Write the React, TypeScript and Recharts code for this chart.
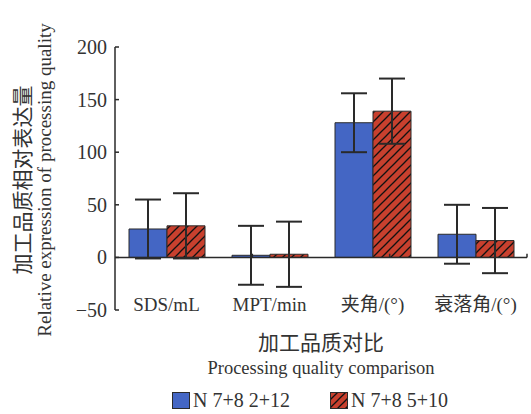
import React from 'react';
import {
  BarChart, Bar, XAxis, YAxis, ErrorBar, ReferenceLine, Legend,
} from 'recharts';

const categories = ['SDS/mL', 'MPT/min', '夹角/(°)', '衰落角/(°)'];
const blueValues = [27, 2, 128, 22];
const blueErrors = [28, 28, 28, 28];
const redValues = [30, 3, 139, 16];
const redErrors = [31, 31, 31, 31];
const yTicks = [-50, 0, 50, 100, 150, 200];
const boundaries = [1, 2, 3];

const seriesNames = ['N 7+8 2+12', 'N 7+8 5+10'];

const FONT = "'Liberation Serif', 'Noto Sans CJK SC', serif";
const BLUE = '#4466c4';
const RED = '#c8402e';
const INK = '#2a2a2a';
const TXT = { fontFamily: FONT };

const data = categories.map((name, i) => ({
  name,
  blue: blueValues[i],
  blueErr: blueErrors[i],
  red: redValues[i],
  redErr: redErrors[i],
}));

const YTick = ({ x, y, payload }: any) => (
  <g>
    <line x1={x} x2={x + 4} y1={y} y2={y} stroke={INK} strokeWidth={1.5} />
    <text x={x - 8} y={y} dy={7} textAnchor="end" style={TXT} fontSize={20} fill="#333">
      {payload.value < 0 ? '\u2212' + Math.abs(payload.value) : payload.value}
    </text>
  </g>
);

const XTick = ({ x, y, payload }: any) => (
  <text x={x} y={y} dy={-7} textAnchor="middle" style={TXT} fontSize={19} fill="#333">
    {payload.value}
  </text>
);

const YTitle = () => {
  const cy = 180;
  return (
    <g fill="#333">
      <text x={23} y={cy} transform={`rotate(-90 23 ${cy})`} dy={7} textAnchor="middle" style={TXT} fontSize={21}>
        加工品质相对表达量
      </text>
      <text x={45} y={cy} transform={`rotate(-90 45 ${cy})`} dy={6} textAnchor="middle" style={TXT} fontSize={19}>
        Relative expression of processing quality
      </text>
    </g>
  );
};

const XTitle = ({ viewBox }: any) => {
  const cx = viewBox.x + viewBox.width / 2;
  return (
    <g fill="#333">
      <text x={cx} y={viewBox.y + 40} textAnchor="middle" style={TXT} fontSize={21}>加工品质对比</text>
      <text x={cx} y={viewBox.y + 64} textAnchor="middle" style={TXT} fontSize={18.5}>Processing quality comparison</text>
    </g>
  );
};

const LegendContent = () => (
  <div style={{ position: 'relative', height: 30, fontFamily: FONT, fontSize: 20, color: '#333' }}>
    <div style={{ position: 'absolute', left: 172, top: 5, display: 'flex', alignItems: 'center' }}>
      <svg width={19} height={18} style={{ marginRight: 2 }}>
        <rect x={0.5} y={0.5} width={17} height={16} fill={BLUE} stroke={INK} />
      </svg>
      <span>{seriesNames[0]}</span>
    </div>
    <div style={{ position: 'absolute', left: 330, top: 5, display: 'flex', alignItems: 'center' }}>
      <svg width={19} height={18} style={{ marginRight: 2 }}>
        <defs>
          <pattern id="hatchLegend" patternUnits="userSpaceOnUse" width={8} height={8}>
            <rect width={8} height={8} fill={RED} />
            <line x1={0} y1={8} x2={8} y2={0} stroke="#111" strokeWidth={1.3} />
            <line x1={-2} y1={2} x2={2} y2={-2} stroke="#111" strokeWidth={1.3} />
            <line x1={6} y1={10} x2={10} y2={6} stroke="#111" strokeWidth={1.3} />
          </pattern>
        </defs>
        <rect x={0.5} y={0.5} width={17} height={16} fill="url(#hatchLegend)" stroke={INK} />
      </svg>
      <span>{seriesNames[1]}</span>
    </div>
  </div>
);

export default function App() {
  return (
    <div style={{ position: 'absolute', left: 0, top: 0, width: 531, height: 414, background: '#fff' }}>
      <BarChart
        width={531}
        height={414}
        data={data}
        margin={{ top: 47, right: 4, left: 0, bottom: 0 }}
        barGap={0}
        barSize={38}
      >
        <defs>
          <pattern id="hatch" patternUnits="userSpaceOnUse" width={9} height={9}>
            <rect width={9} height={9} fill={RED} />
            <line x1={0} y1={9} x2={9} y2={0} stroke="#111" strokeWidth={1.3} />
            <line x1={-2} y1={2} x2={2} y2={-2} stroke="#111" strokeWidth={1.3} />
            <line x1={7} y1={11} x2={11} y2={7} stroke="#111" strokeWidth={1.3} />
          </pattern>
        </defs>
        <XAxis
          dataKey="name"
          axisLine={false}
          tickLine={false}
          height={74}
          tick={<XTick />}
          label={<XTitle />}
          interval={0}
        />
        <XAxis xAxisId="n" type="number" domain={[0, 4]} hide />
        <YAxis
          domain={[-50, 200]}
          ticks={yTicks}
          width={115}
          tickSize={0}
          tickMargin={0}
          tickLine={false}
          axisLine={{ stroke: INK, strokeWidth: 1.5 }}
          tick={<YTick />}
          label={<YTitle />}
        />
        <ReferenceLine y={0} stroke={INK} strokeWidth={1.5} />
        {boundaries.map((b) => (
          <ReferenceLine
            key={b}
            xAxisId="n"
            segment={[{ x: b, y: 0 }, { x: b, y: 3.5 }]}
            stroke={INK}
            strokeWidth={1.5}
          />
        ))}
        <Bar dataKey="blue" name={seriesNames[0]} fill={BLUE} stroke={INK} strokeWidth={1} isAnimationActive={false}>
          <ErrorBar dataKey="blueErr" width={13} stroke={INK} strokeWidth={2} />
        </Bar>
        <Bar dataKey="red" name={seriesNames[1]} fill="url(#hatch)" stroke={INK} strokeWidth={1} isAnimationActive={false}>
          <ErrorBar dataKey="redErr" width={13} stroke={INK} strokeWidth={2} />
        </Bar>
        <Legend verticalAlign="bottom" height={30} content={<LegendContent />} />
      </BarChart>
    </div>
  );
}
